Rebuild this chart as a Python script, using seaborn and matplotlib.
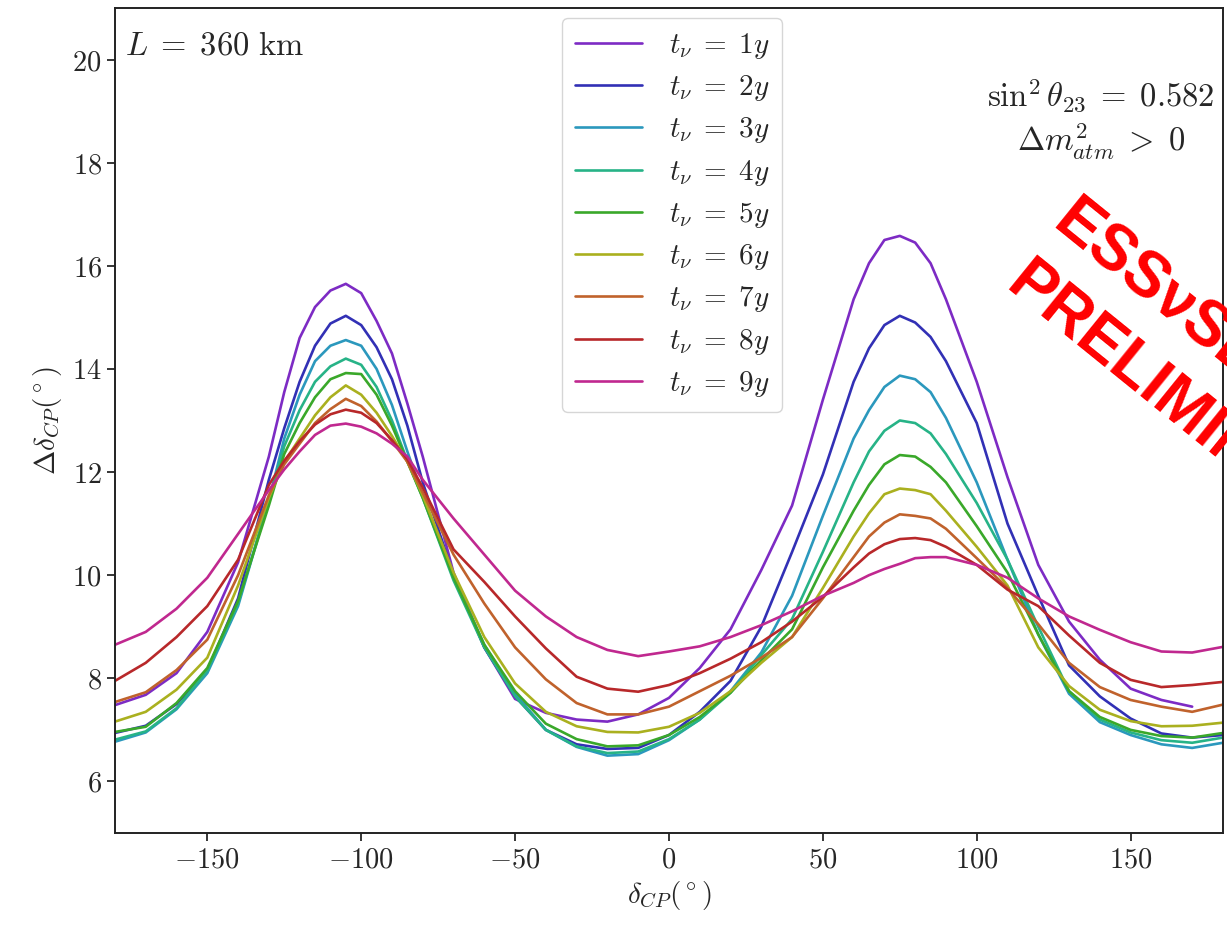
import numpy as np
import pandas as pd
import matplotlib
matplotlib.use("Agg")
import matplotlib.pyplot as plt
import seaborn as sns

# ---------------- data ----------------
delta_cp = [-180, -170, -160, -150, -140, -130,
            -125, -120, -115, -110, -105, -100, -95, -90, -85, -80,
            -70, -60, -50, -40, -30, -20, -10, 0, 10, 20, 30, 40, 50, 60,
            65, 70, 75, 80, 85, 90,
            100, 110, 120, 130, 140, 150, 160, 170, 180]

t1 = [7.48, 7.68, 8.1, 8.9, 10.25, 12.3,
      13.55, 14.6, 15.2, 15.52, 15.65, 15.47, 14.93, 14.3, 13.33, 12.3,
      10.05, 8.6, 7.6, 7.33, 7.2, 7.16, 7.3, 7.62, 8.2, 8.95, 10.1, 11.35, 13.4, 15.35,
      16.05, 16.5, 16.58, 16.45, 16.05, 15.35,
      13.75, 11.9, 10.2, 9.1, 8.36, 7.8, 7.58, 7.45, np.nan]
t2 = [6.94, 7.08, 7.5, 8.15, 9.55, 11.85,
      12.85, 13.75, 14.45, 14.88, 15.03, 14.85, 14.42, 13.8, 12.9, 11.8,
      10.0, 8.6, 7.65, 7.0, 6.72, 6.63, 6.65, 6.9, 7.35, 7.95, 9.0, 10.45, 11.95, 13.75,
      14.4, 14.85, 15.03, 14.9, 14.62, 14.15,
      12.95, 11.0, 9.6, 8.25, 7.65, 7.22, 6.93, 6.85, 6.9]
t3 = [6.77, 6.95, 7.4, 8.1, 9.4, 11.45,
      12.65, 13.5, 14.15, 14.45, 14.56, 14.45, 14.0, 13.3, 12.4, 11.55,
      9.95, 8.65, 7.7, 7.0, 6.67, 6.5, 6.53, 6.8, 7.2, 7.75, 8.5, 9.6, 11.15, 12.65,
      13.2, 13.65, 13.87, 13.8, 13.55, 13.05,
      11.8, 10.3, 8.85, 7.7, 7.15, 6.9, 6.72, 6.65, 6.75]
t4 = [6.81, 6.97, 7.42, 8.15, 9.45, 11.45,
      12.5, 13.2, 13.75, 14.05, 14.2, 14.08, 13.65, 13.0, 12.22, 11.5,
      9.9, 8.6, 7.65, 7.0, 6.68, 6.55, 6.58, 6.82, 7.2, 7.72, 8.45, 9.15, 10.45, 11.8,
      12.4, 12.8, 13.0, 12.95, 12.75, 12.35,
      11.4, 10.3, 9.0, 7.75, 7.2, 6.95, 6.8, 6.75, 6.85]
t5 = [6.96, 7.06, 7.52, 8.2, 9.5, 11.35,
      12.35, 12.95, 13.45, 13.8, 13.92, 13.9, 13.5, 12.9, 12.2, 11.5,
      9.95, 8.65, 7.75, 7.12, 6.82, 6.68, 6.7, 6.9, 7.25, 7.72, 8.35, 8.95, 10.15, 11.25,
      11.75, 12.15, 12.33, 12.3, 12.1, 11.8,
      10.95, 10.05, 8.85, 7.75, 7.25, 7.0, 6.88, 6.85, 6.94]
t6 = [7.16, 7.35, 7.78, 8.4, 9.8, 11.5,
      12.2, 12.65, 13.1, 13.45, 13.68, 13.5, 13.15, 12.7, 12.2, 11.55,
      10.05, 8.8, 7.9, 7.35, 7.07, 6.96, 6.95, 7.06, 7.33, 7.75, 8.3, 8.8, 9.75, 10.75,
      11.2, 11.57, 11.68, 11.65, 11.57, 11.25,
      10.55, 9.8, 8.6, 7.85, 7.39, 7.17, 7.07, 7.08, 7.14]
t7 = [7.54, 7.73, 8.16, 8.75, 10.0, 11.55,
      12.15, 12.55, 12.95, 13.22, 13.42, 13.28, 12.98, 12.6, 12.2, 11.6,
      10.4, 9.45, 8.6, 7.98, 7.52, 7.3, 7.3, 7.45, 7.75, 8.05, 8.4, 8.8, 9.55, 10.35,
      10.75, 11.02, 11.18, 11.15, 11.1, 10.9,
      10.33, 9.75, 9.05, 8.3, 7.83, 7.58, 7.45, 7.35, 7.49]
t8 = [7.95, 8.3, 8.8, 9.4, 10.3, 11.75,
      12.22, 12.6, 12.92, 13.12, 13.21, 13.15, 12.95, 12.62, 12.25, 11.7,
      10.5, 9.87, 9.2, 8.58, 8.03, 7.8, 7.74, 7.87, 8.1, 8.38, 8.7, 9.1, 9.58, 10.15,
      10.42, 10.6, 10.7, 10.72, 10.68, 10.55,
      10.2, 9.72, 9.4, 8.83, 8.3, 7.97, 7.83, 7.87, 7.93]
t9 = [8.65, 8.9, 9.35, 9.95, 10.8, 11.65,
      12.05, 12.4, 12.72, 12.9, 12.94, 12.88, 12.75, 12.55, 12.3, 11.85,
      11.1, 10.4, 9.7, 9.2, 8.8, 8.55, 8.43, 8.52, 8.62, 8.8, 9.03, 9.3, 9.6, 9.85,
      10.0, 10.12, 10.22, 10.33, 10.35, 10.35,
      10.2, 9.95, 9.55, 9.2, 8.94, 8.7, 8.52, 8.5, 8.61]

series = [t1, t2, t3, t4, t5, t6, t7, t8, t9]
labels = [r'$t_\nu\;=\;%dy$' % k for k in range(1, 10)]
colors = ['#7d2bc4', '#3230b5', '#2b98bd', '#27b387', '#3aa82a',
          '#aab01f', '#c0622c', '#b8282a', '#c0288f']
xticks = [-150, -100, -50, 0, 50, 100, 150]
yticks = [6, 8, 10, 12, 14, 16, 18, 20]

# ---------------- style ----------------
sns.set_style("ticks")
plt.rcParams['font.family'] = ['DejaVu Serif']
plt.rcParams['mathtext.fontset'] = 'cm'
plt.rcParams['axes.linewidth'] = 1.4

rows = []
for lab, vals in zip(labels, series):
    for x, v in zip(delta_cp, vals):
        if not np.isnan(v):
            rows.append((x, v, lab))
df = pd.DataFrame(rows, columns=['dcp', 'ddcp', 'run'])

fig = plt.figure(figsize=(12.27, 9.27), dpi=100)
ax = fig.add_axes([0.0937, 0.1014, 0.9030, 0.8900])

sns.lineplot(data=df, x='dcp', y='ddcp', hue='run', hue_order=labels,
             palette=colors, estimator=None, sort=True, linewidth=1.9,
             legend=False, ax=ax)

ax.set_xlim(-180, 180)
ax.set_ylim(5, 21)
ax.set_xticks(xticks)
ax.set_yticks(yticks)
ax.set_xticklabels([r'$%d$' % v for v in xticks])
ax.set_yticklabels([r'$%d$' % v for v in yticks])
ax.tick_params(axis='both', labelsize=20.5, length=6, width=1.3, direction='out')
ax.set_xlabel(r'$\delta_{CP}(^\circ)$', fontsize=21, labelpad=4)
ax.set_ylabel(r'$\Delta\delta_{CP}(^\circ)$', fontsize=21, labelpad=6)
for s in ax.spines.values():
    s.set_color('#222222')

handles = ax.get_lines()[:9]
leg = ax.legend(handles, labels, loc='upper center', bbox_to_anchor=(0.503, 0.988),
                borderaxespad=0, fontsize=21, handlelength=2.3, labelspacing=0.42,
                handletextpad=0.9, frameon=True, fancybox=True, framealpha=0.8,
                borderpad=0.45)
leg.get_frame().set_edgecolor('#cccccc')

ax.text(0.009, 0.955, r'$L\;=\;360\ \mathrm{km}$', transform=ax.transAxes,
        fontsize=23.5, ha='left', va='center')
ax.text(0.890, 0.865, r'$\sin^2\theta_{23}\;=\;0.582$' + '\n' + r'$\Delta m^2_{atm}\;>\;0$',
        transform=ax.transAxes, fontsize=23.5, ha='center', va='center',
        multialignment='center', linespacing=1.25)

# watermark
fig.text(0.856, 0.755, 'ESSνSB', color='red', fontsize=46, fontweight='bold',
         family=['Liberation Sans', 'DejaVu Sans'], rotation=-39,
         rotation_mode='anchor', ha='left', va='baseline')
fig.text(0.818, 0.688, 'PRELIMINARY', color='red', fontsize=46, fontweight='bold',
         family=['Liberation Sans', 'DejaVu Sans'], rotation=-39,
         rotation_mode='anchor', ha='left', va='baseline')

fig.savefig('out.png', dpi=100)
